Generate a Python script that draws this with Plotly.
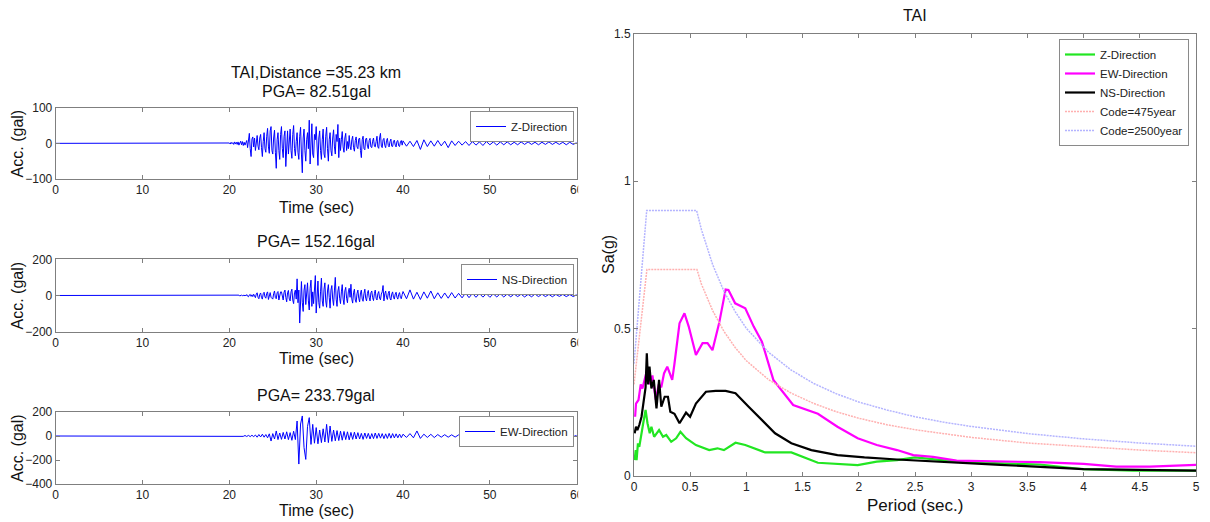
import numpy as np
import plotly.graph_objects as go

W, H = 1210, 522
FONT = "Liberation Sans, Arial, Helvetica, sans-serif"

# ---------------- accelerograms (gal) ----------------
t_pre = [0.0]
t_fine = list(np.round(np.arange(20.0, 40.0 - 1e-9, 0.1), 2))     # Z and NS strong motion
t_mid = list(np.round(np.arange(20.0, 40.0 - 1e-9, 0.2), 2))      # EW strong motion
t_coda = list(np.round(np.arange(40.0, 60.0 + 1e-9, 0.4), 2))
acc_pre = [0]

z_strong = [1, -2, 3, -1, 2, -3, 4, -2, 3, -3,
            4, -5, 2, 6, -4, 5, -6, 3, -5, 6,
            8, -12, 5, 28, -15, -37, 12, 18, -10, 15,
            -20, 10, 22, -8, -18, 15, 25, -12, -37, 5,
            30, -15, -25, 20, 42, -10, -28, 35, 47, -20,
            -30, 15, 37, -25, -70, 10, 30, -20, -45, 25,
            47, -15, -40, 20, 35, -65, -10, 35, -30, 15,
            40, -20, -42, 25, 50, -15, -35, 5, 30, -25,
            -45, 20, 45, -30, -82.51, 15, 40, -20, -50, 10,
            30, -15, 65, -58, 20, 55, -30, -40, 25, 10,
            47, -25, -62, 15, 35, -20, -45, 10, 40, -30,
            -40, 20, 45, -15, -50, 10, 30, -20, -35, 15,
            38, -10, -30, 25, 5, 53, -40, 15, -20, 10,
            33, -10, -25, 15, 28, -20, 5, -15, 22, -8,
            -18, 10, 20, -12, -22, 8, 18, -10, -15, 12,
            15, -20, -40, 10, 20, -15, -18, 12, 15, -8,
            -15, 8, 14, -10, -12, 6, 15, -8, -10, 5,
            20, -10, -14, 15, 28, -8, -12, 10, 14, -6,
            -12, 8, 14, -6, -10, 5, 12, -8, -9, 6,
            9, -5, -10, 6, 8, -7, -9, 4, 8, -5]
z_coda = [7, -8, 6, -9, 8, -17, 10, -9, 7, -8,
          8, -7, 6, -12, 7, -6, 6, -5, 5, -6,
          5, -5, 4, -6, 5, -4, 4, -5, 4, -4,
          4, -4, 3, -4, 4, -3, 4, -3, 3, -4,
          3, -3, 4, -3, 3, -3, 3, -4, 3, -3, 2]

ns_strong = [0, 1, -1, 1, -2, 1, -1, 2, -1, 1,
             -2, 2, -3, 1, 3, -2, 2, -3, 3, -2,
             5, -4, -7, 3, 6, -5, 4, -6, 7, -3,
             -12, 8, 15, -10, -18, 6, 14, -12, -20, 10,
             18, -8, -15, 12, 20, -22, 5, 16, -10, -18,
             -20, 10, 25, -12, -18, 15, 22, -25, 8, 20,
             20, -15, -25, 18, 30, -10, -35, 15, 28, -20,
             -30, 20, 35, -25, -45, 15, 30, -20, 92, -40,
             30, -152.16, 20, 77, -40, -88, 30, 60, -50, 25,
             70, -30, -80, 40, 85, -60, 20, -45, 50, 110,
             -97, 30, 80, -40, -70, 20, 96, -30, -60, 35,
             70, -30, -65, 25, 60, -10, -70, 30, 55, -20,
             -55, 30, 100, -20, -60, 25, 50, -15, -45, 20,
             60, -20, -50, 25, 45, -15, -40, 20, 40, -10,
             62, -20, -42, 15, 35, -25, -38, 10, 30, -15,
             -35, 15, 30, -20, -32, 10, 35, -15, -30, 12,
             28, -10, -30, 15, 25, -12, -28, 10, 30, -15,
             -25, 10, 22, -15, -24, 8, 20, 55, -30, 10,
             25, -10, -22, 12, 24, -15, -25, 8, 20, -10,
             -20, 8, 18, -10, -20, 6, 16, -12, -18, 5]
ns_coda = [22, -18, 31, -20, 18, -22, 20, -15, 25, -18,
           15, -16, 14, -15, 16, -14, 12, -13, 14, -12,
           12, -10, 11, -9, 10, -10, 9, -8, 10, -8,
           8, -7, 8, -6, 7, -8, 6, -7, 8, -6,
           7, -6, 6, -7, 6, -5, 6, -6, 5, -6, 5]

ew_strong = [0, 1, -1, 1, -1,
             2, -2, 3, -3, 4,
             -4, 5, -5, 6, -5,
             8, -10, 12, -8, 15,
             -10, 12, -15, 18, -42,
             20, -25, 42, -30, 25,
             -28, 30, -25, 35, -30,
             28, -36, 40, -30, 125,
             -233.79, 100, 167, -97, -195,
             80, 153, -70, 97, -60,
             70, -65, 50, -55, 60,
             -50, 97, -55, 83, -45,
             50, -40, 45, -38, 40,
             -35, 38, -30, 35, -32,
             30, -28, 32, -25, 28,
             -25, 22, -28, 25, -20,
             22, -25, 20, -22, 25,
             -20, 22, -18, 20, -22,
             18, -20, 22, -18, 20,
             -16, 18, -15, 16, -14]
ew_coda = [15, -12, 20, -15, 42, -20, 15, -12, 14, -13,
           12, -10, 11, -10, 10, -9, 9, -8, 10, -9,
           8, -7, 8, -8, 7, -7, 8, -6, 7, -7,
           6, -7, 7, -6, 6, -7, 7, -6, 6, -6,
           6, -5, 6, -6, 5, -6, 5, -5, 6, -5, 5]

time_zns = t_pre + t_fine + t_coda
time_ew = t_pre + t_mid + t_coda
z_acc = acc_pre + z_strong + z_coda
ns_acc = acc_pre + ns_strong + ns_coda
ew_acc = acc_pre + ew_strong + ew_coda

# ---------------- response spectra (g) ----------------
T_Z = [0.006, 0.015, 0.023, 0.035, 0.047, 0.065, 0.082, 0.103, 0.12, 0.14, 0.155, 0.179, 0.223,
       0.258, 0.287, 0.331, 0.375, 0.413, 0.463, 0.551, 0.669, 0.742, 0.80, 0.903, 0.99, 1.167,
       1.40, 1.636, 1.99, 2.16, 2.34, 2.5, 2.87, 3.26, 3.61, 4.0, 4.44, 5.0]
Sa_Z = [0.053, 0.087, 0.053, 0.11, 0.098, 0.144, 0.178, 0.223, 0.178, 0.144, 0.166, 0.132, 0.155,
        0.132, 0.138, 0.115, 0.127, 0.149, 0.127, 0.104, 0.087, 0.093, 0.087, 0.112, 0.104, 0.079,
        0.079, 0.044, 0.036, 0.048, 0.053, 0.062, 0.048, 0.042, 0.038, 0.022, 0.017, 0.017]

T_EW = [0.01, 0.018, 0.04, 0.06, 0.075, 0.097, 0.117, 0.14, 0.164, 0.194, 0.22, 0.243, 0.267,
        0.296, 0.32, 0.34, 0.36, 0.405, 0.449, 0.487, 0.551, 0.61, 0.654, 0.698, 0.757, 0.815,
        0.84, 0.90, 0.99, 1.065, 1.138, 1.24, 1.416, 1.636, 1.81, 1.99, 2.16, 2.34, 2.485, 2.66,
        2.87, 3.26, 3.61, 4.0, 4.29, 4.59, 5.0]
Sa_EW = [0.20, 0.245, 0.257, 0.31, 0.296, 0.325, 0.36, 0.31, 0.34, 0.257, 0.31, 0.30, 0.347,
         0.37, 0.347, 0.325, 0.38, 0.517, 0.551, 0.506, 0.41, 0.45, 0.45, 0.426, 0.517, 0.632,
         0.63, 0.585, 0.568, 0.506, 0.455, 0.325, 0.24, 0.21, 0.166, 0.127, 0.104, 0.087, 0.070,
         0.064, 0.051, 0.048, 0.046, 0.040, 0.031, 0.031, 0.037]

T_NS = [0.006, 0.018, 0.03, 0.047, 0.067, 0.088, 0.103, 0.114, 0.126, 0.138, 0.155, 0.176, 0.20,
        0.223, 0.243, 0.273, 0.302, 0.323, 0.36, 0.405, 0.463, 0.499, 0.551, 0.64, 0.727, 0.815,
        0.903, 1.02, 1.138, 1.255, 1.40, 1.578, 1.81, 2.05, 2.34, 2.66, 3.26, 4.0, 5.0]
Sa_NS = [0.144, 0.166, 0.155, 0.172, 0.20, 0.257, 0.30, 0.415, 0.31, 0.37, 0.296, 0.325, 0.228,
         0.325, 0.234, 0.268, 0.268, 0.217, 0.21, 0.178, 0.214, 0.20, 0.245, 0.285, 0.288, 0.288,
         0.28, 0.234, 0.189, 0.144, 0.11, 0.087, 0.07, 0.062, 0.055, 0.048, 0.037, 0.022, 0.017]

T_475 = [0, 0.115, 0.56, 0.6, 0.7, 0.8, 0.9, 1.0, 1.2, 1.4, 1.6, 1.8, 2.0, 2.25, 2.5, 2.75, 3.0,
         3.5, 4.0, 4.5, 5.0]
Sa_475 = [0.31, 0.70, 0.70, 0.65, 0.56, 0.49, 0.435, 0.39, 0.325, 0.28, 0.245, 0.217, 0.195,
          0.173, 0.156, 0.142, 0.13, 0.111, 0.098, 0.087, 0.078]
T_2500 = [0, 0.113, 0.557, 0.6, 0.7, 0.8, 0.9, 1.0, 1.2, 1.4, 1.6, 1.8, 2.0, 2.25, 2.5, 2.75, 3.0,
          3.5, 4.0, 4.5, 5.0]
Sa_2500 = [0.38, 0.90, 0.90, 0.835, 0.716, 0.626, 0.557, 0.50, 0.418, 0.358, 0.313, 0.278, 0.25,
           0.223, 0.20, 0.182, 0.167, 0.143, 0.125, 0.111, 0.10]


def fx(p):
    return p / W


def fy(p):
    return 1 - p / H


fig = go.Figure()

blue = "#0000ff"
fig.add_trace(go.Scatter(x=time_zns, y=z_acc, mode="lines", name="Z-Direction",
                         line=dict(color=blue, width=1), xaxis="x", yaxis="y", legend="legend2"))
fig.add_trace(go.Scatter(x=time_zns, y=ns_acc, mode="lines", name="NS-Direction",
                         line=dict(color=blue, width=1), xaxis="x2", yaxis="y2", legend="legend3"))
fig.add_trace(go.Scatter(x=time_ew, y=ew_acc, mode="lines", name="EW-Direction",
                         line=dict(color=blue, width=1), xaxis="x3", yaxis="y3", legend="legend4"))

fig.add_trace(go.Scatter(x=T_Z, y=Sa_Z, mode="lines", name="Z-Direction",
                         line=dict(color="#22e622", width=2.2), xaxis="x4", yaxis="y4", legend="legend"))
fig.add_trace(go.Scatter(x=T_EW, y=Sa_EW, mode="lines", name="EW-Direction",
                         line=dict(color="#ff00ff", width=2.2), xaxis="x4", yaxis="y4", legend="legend"))
fig.add_trace(go.Scatter(x=T_NS, y=Sa_NS, mode="lines", name="NS-Direction",
                         line=dict(color="#000000", width=2.2), xaxis="x4", yaxis="y4", legend="legend"))
fig.add_trace(go.Scatter(x=T_475, y=Sa_475, mode="lines", name="Code=475year",
                         line=dict(color="#ffb0b0", width=1.5, dash="2px,1px"), xaxis="x4", yaxis="y4",
                         legend="legend"))
fig.add_trace(go.Scatter(x=T_2500, y=Sa_2500, mode="lines", name="Code=2500year",
                         line=dict(color="#b4b4ff", width=1.5, dash="2px,1px"), xaxis="x4", yaxis="y4",
                         legend="legend"))

axc = "#7f7f7f"
base = dict(showline=True, linecolor=axc, linewidth=1, mirror="ticks", ticks="inside", ticklen=4,
            tickcolor=axc, showgrid=False, zeroline=False, automargin=False,
            tickfont=dict(family=FONT, size=12, color="#222"))

xl = [fx(55.7), fx(576.7)]
layout = dict(
    width=W, height=H, margin=dict(l=0, r=0, t=0, b=0, autoexpand=False),
    paper_bgcolor="white", plot_bgcolor="white",
    font=dict(family=FONT, color="#111"),
    xaxis=dict(base, domain=xl, range=[0, 60], dtick=10, anchor="y"),
    yaxis=dict(base, domain=[fy(179), fy(107.7)], range=[-100, 100], dtick=100, anchor="x"),
    xaxis2=dict(base, domain=xl, range=[0, 60], dtick=10, anchor="y2"),
    yaxis2=dict(base, domain=[fy(331.7), fy(259.3)], range=[-200, 200], dtick=200, anchor="x2"),
    xaxis3=dict(base, domain=xl, range=[0, 60], dtick=10, anchor="y3"),
    yaxis3=dict(base, domain=[fy(484), fy(412)], range=[-400, 200], dtick=200, anchor="x3"),
    xaxis4=dict(base, domain=[fx(634), fx(1196)], range=[0, 5], dtick=0.5, anchor="y4"),
    yaxis4=dict(base, domain=[fy(475.7), fy(33.7)], range=[0, 1.5], dtick=0.5, anchor="x4"),
)

leg_base = dict(bgcolor="white", bordercolor="#8a8a8a", borderwidth=1, xanchor="right", yanchor="top",
                font=dict(family=FONT, size=11.5, color="#222"))
layout["legend"] = dict(leg_base, x=fx(1189), y=fy(39), font=dict(family=FONT, size=11.5, color="#222"),
                        tracegroupgap=0)
layout["legend2"] = dict(leg_base, x=fx(574), y=fy(111))
layout["legend3"] = dict(leg_base, x=fx(574), y=fy(264))
layout["legend4"] = dict(leg_base, x=fx(574), y=fy(416))
fig.update_layout(**layout)

ann = []


def txt(text, x, y, size=17, angle=0):
    ann.append(dict(text=text, x=fx(x), y=fy(y), xref="paper", yref="paper", showarrow=False,
                    xanchor="center", yanchor="middle", textangle=angle,
                    font=dict(family=FONT, size=size, color="#111")))


cx = (55.7 + 576.7) / 2
txt("TAI,Distance =35.23 km", cx, 72, 16)
txt("PGA= 82.51gal", cx, 91, 16)
txt("PGA= 152.16gal", cx, 241, 16)
txt("PGA= 233.79gal", cx, 395, 16)
for yc in [143.4, 295.5, 448]:
    txt("Acc. (gal)", 17, yc, 16, -90)
for yt in [207, 358, 510]:
    txt("Time (sec)", cx, yt, 16)
txt("TAI", 915, 15, 16)
txt("Sa(g)", 608, 255, 16, -90)
txt("Period (sec.)", 915, 505, 17)
fig.update_layout(annotations=ann)

# crop of the left figure at its right edge (hides the clipped half of the "60" tick label)
fig.add_shape(type="rect", xref="paper", yref="paper", x0=fx(578.2), x1=fx(598), y0=0, y1=1,
              fillcolor="white", line=dict(width=0), layer="above")

fig.write_html("out.html", config={"displayModeBar": False},
               post_script="document.body.style.margin='0px';document.body.style.overflow='hidden';")
